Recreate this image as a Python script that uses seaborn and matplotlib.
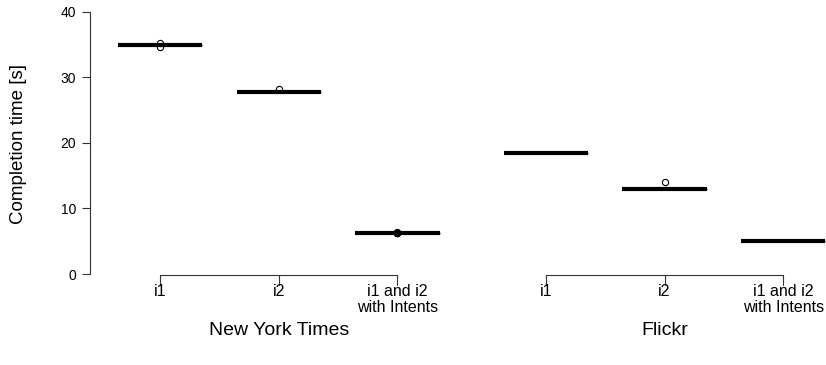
import matplotlib
matplotlib.use("Agg")
import matplotlib.pyplot as plt
import seaborn as sns
import pandas as pd

# data (completion times in seconds)
sites = ["New York Times", "Flickr"]
conditions = ["i1", "i2", "i1 and i2\nwith Intents"]
positions = [1, 2, 3, 4.25, 5.25, 6.25]
nyt_i1 = [35.0, 35.0, 35.0, 35.0, 35.0, 35.3, 34.7]
nyt_i2 = [27.8, 27.8, 27.8, 27.8, 27.8, 28.2]
nyt_both = [6.3, 6.3, 6.3, 6.3, 6.3, 6.25, 6.35, 6.28, 6.32]
fl_i1 = [18.5, 18.5, 18.5, 18.5, 18.5]
fl_i2 = [12.9, 12.9, 12.9, 12.9, 12.9, 14.0]
fl_both = [5.1, 5.1, 5.1, 5.1, 5.1]

series = [nyt_i1, nyt_i2, nyt_both, fl_i1, fl_i2, fl_both]
rows = []
for pos, vals in zip(positions, series):
    for v in vals:
        rows.append({"pos": pos, "time": v})
df = pd.DataFrame(rows)

sns.set_style("white")
plt.rcParams["font.family"] = ["Liberation Sans", "DejaVu Sans"]
plt.rcParams["text.color"] = "black"
plt.rcParams["axes.labelcolor"] = "black"
plt.rcParams["ytick.color"] = "black"

fig = plt.figure(figsize=(8.26, 3.65), dpi=100)
ax = fig.add_axes([90 / 826, 75 / 365, 736 / 826, 288 / 365])

sns.boxplot(data=df, x="pos", y="time", native_scale=True, width=0.71,
            color="white", linecolor="black", linewidth=1,
            medianprops={"linewidth": 3, "color": "black", "solid_capstyle": "butt"},
            capprops={"color": "#777777", "linewidth": 1.5},
            flierprops={"marker": "o", "markersize": 4.5, "markerfacecolor": "none",
                        "markeredgecolor": "black", "markeredgewidth": 0.8},
            ax=ax)

ax.set_xlim(0.41, 6.61)
ax.set_ylim(-2.44, 41.5)
ax.set_xticks([])
ax.set_xlabel("")
ax.set_yticks([0, 10, 20, 30, 40])
ax.tick_params(axis="y", direction="out", length=6, width=0.8, color="#333333",
               labelsize=10, pad=4, left=True)
ax.set_ylabel("Completion time [s]", fontsize=13.5)
ax.yaxis.set_label_coords(-63 / 736, (290 - 144) / 288)
for s in ["top", "right", "bottom"]:
    ax.spines[s].set_visible(False)
ax.spines["left"].set_bounds(0, 40)
ax.spines["left"].set_color("#333333")
ax.spines["left"].set_linewidth(0.8)

# grouped x axis brackets
trans = ax.get_xaxis_transform()
y_line = (290 - 275) / 288
y_tick = (290 - 285) / 288
for g in range(2):
    p = positions[g * 3:(g + 1) * 3]
    ax.plot([p[0], p[-1]], [y_line, y_line], color="#333333", lw=0.8,
            transform=trans, clip_on=False)
    for x, lab in zip(p, conditions):
        ax.plot([x, x], [y_line, y_tick], color="#333333", lw=0.8,
                transform=trans, clip_on=False)
        ax.text(x, (290 - 284) / 288, lab, transform=trans, ha="center",
                va="top", fontsize=11.5, linespacing=1.05)
    ax.text(p[1], (290 - 322) / 288, sites[g], transform=trans, ha="center",
            va="top", fontsize=14)

fig.savefig("out.png", dpi=100)
